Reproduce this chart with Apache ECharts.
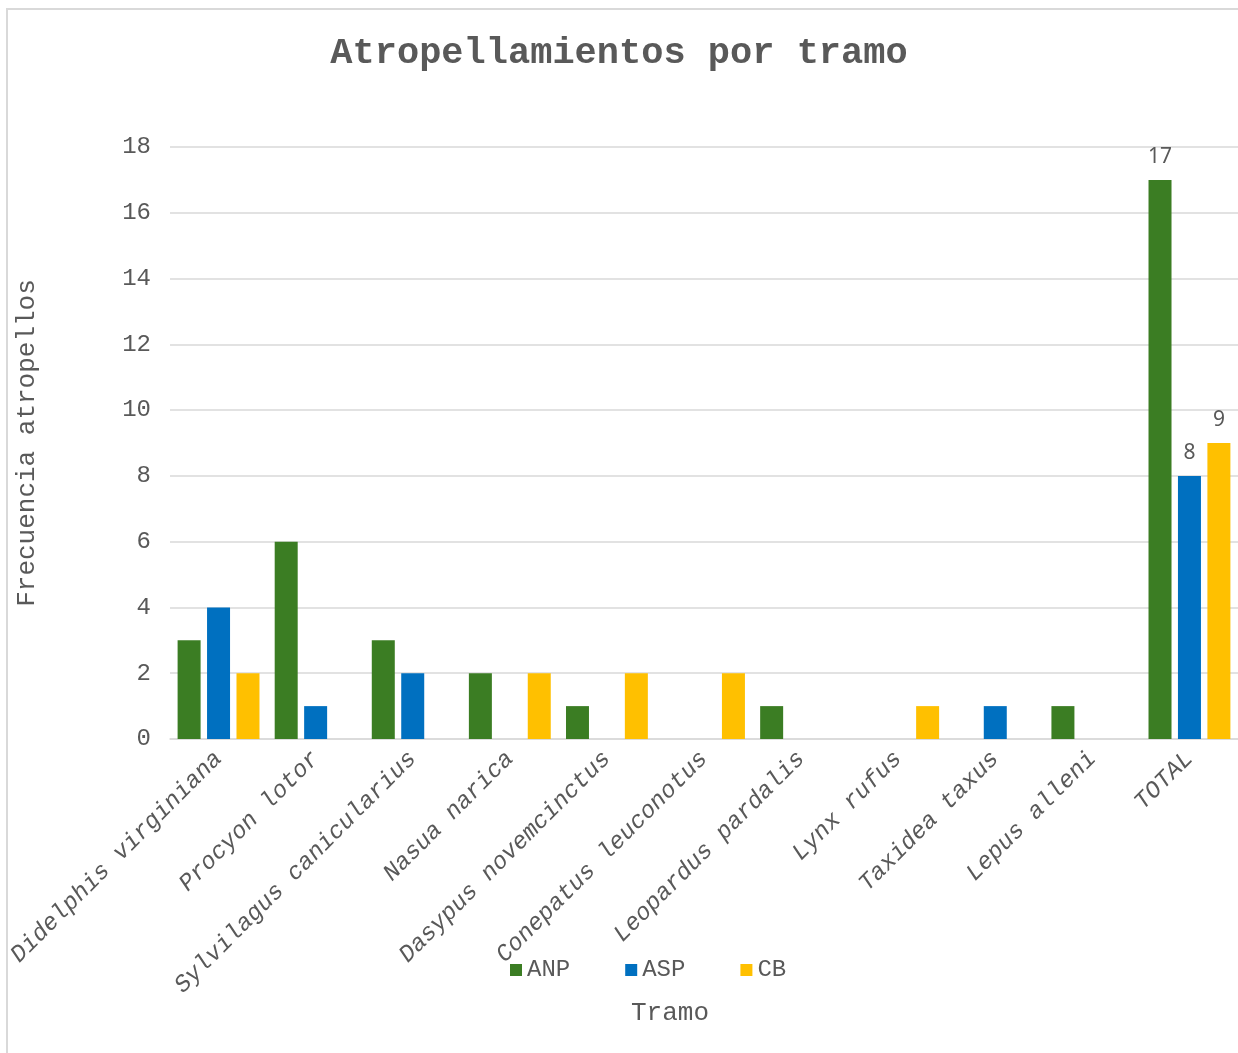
<!DOCTYPE html>
<html>
<head>
<meta charset="utf-8">
<style>
  html, body { margin: 0; padding: 0; background: #ffffff; }
  #chart { width: 1238px; height: 1053px; }
</style>
<script src="https://cdn.jsdelivr.net/npm/echarts@6/dist/echarts.min.js"></script>
</head>
<body>
<div id="chart"></div>
<script>
// Species (road segments grouped by species) and a TOTAL column
const categories = [
  'Didelphis virginiana', 'Procyon lotor', 'Sylvilagus canicularius',
  'Nasua narica', 'Dasypus novemcinctus', 'Conepatus leuconotus',
  'Leopardus pardalis', 'Lynx rufus', 'Taxidea taxus', 'Lepus alleni', 'TOTAL'
];
const seriesNames = ['ANP', 'ASP', 'CB'];
const anp = [3, 6, 3, 2, 1, 0, 1, 0, 0, 1, 17];
const asp = [4, 1, 2, 0, 0, 0, 0, 0, 1, 0, 8];
const cb  = [2, 0, 0, 2, 2, 2, 0, 1, 0, 0, 9];
const yTicks = { min: 0, max: 18, interval: 2 };

const colors = ['#3B7D23', '#0070C0', '#FFC000'];
const textColor = '#595959';
const mono = '"Liberation Mono", "Courier New", monospace';

function makeSeries(name, values, color) {
  return {
    name: name,
    type: 'bar',
    data: values,
    barWidth: 23,
    barGap: '28%',
    itemStyle: { color: color },
    label: {
      show: true,
      position: 'top',
      distance: 12,
      color: textColor,
      fontFamily: '"Noto Sans", "Open Sans", sans-serif',
      fontSize: 21,
      formatter: p => (p.name === 'TOTAL' ? String(p.value) : '')
    }
  };
}

const chart = echarts.init(document.getElementById('chart'), null, { renderer: 'canvas' });
chart.setOption({
  backgroundColor: '#ffffff',
  animation: false,
  color: colors,
  title: {
    text: 'Atropellamientos por tramo',
    left: 'center',
    top: 30,
    textStyle: { fontFamily: mono, fontWeight: 'bold', fontSize: 37, color: textColor }
  },
  graphic: [{
    type: 'rect',
    shape: { x: 7, y: 9, width: 1400, height: 1200 },
    style: { fill: 'none', stroke: '#d9d9d9', lineWidth: 2 },
    silent: true,
    z: -1
  }],
  legend: {
    data: seriesNames,
    left: 505,
    top: 953,
    itemWidth: 12,
    itemHeight: 12,
    itemGap: 55,
    icon: 'rect',
    textStyle: { fontFamily: mono, fontSize: 24, color: textColor }
  },
  grid: { left: 170, right: 0, top: 147, bottom: 314, outerBoundsMode: 'none', containLabel: false },
  xAxis: {
    type: 'category',
    data: categories,
    name: 'Tramo',
    nameLocation: 'middle',
    nameGap: 261,
    nameMoveOverlap: false,
    nameTextStyle: { fontFamily: mono, fontSize: 26, color: textColor, padding: [0, 68, 0, 0] },
    axisLine: { lineStyle: { color: '#d9d9d9', width: 1.5 } },
    axisTick: { show: false },
    axisLabel: {
      rotate: 45,
      margin: 16,
      interval: 0,
      fontFamily: mono,
      fontStyle: 'italic',
      fontSize: 24,
      color: textColor
    }
  },
  yAxis: {
    type: 'value',
    min: yTicks.min,
    max: yTicks.max,
    interval: yTicks.interval,
    name: 'Frecuencia atropellos',
    nameLocation: 'middle',
    nameGap: 130,
    nameRotate: 90,
    nameTextStyle: { fontFamily: mono, fontSize: 26, color: textColor },
    axisLine: { show: false },
    axisTick: { show: false },
    axisLabel: { margin: 19, fontFamily: mono, fontSize: 24, color: textColor },
    splitLine: { lineStyle: { color: '#d9d9d9', width: 1.5 } }
  },
  series: [
    makeSeries(seriesNames[0], anp, colors[0]),
    makeSeries(seriesNames[1], asp, colors[1]),
    makeSeries(seriesNames[2], cb, colors[2])
  ]
});
</script>
</body>
</html>
